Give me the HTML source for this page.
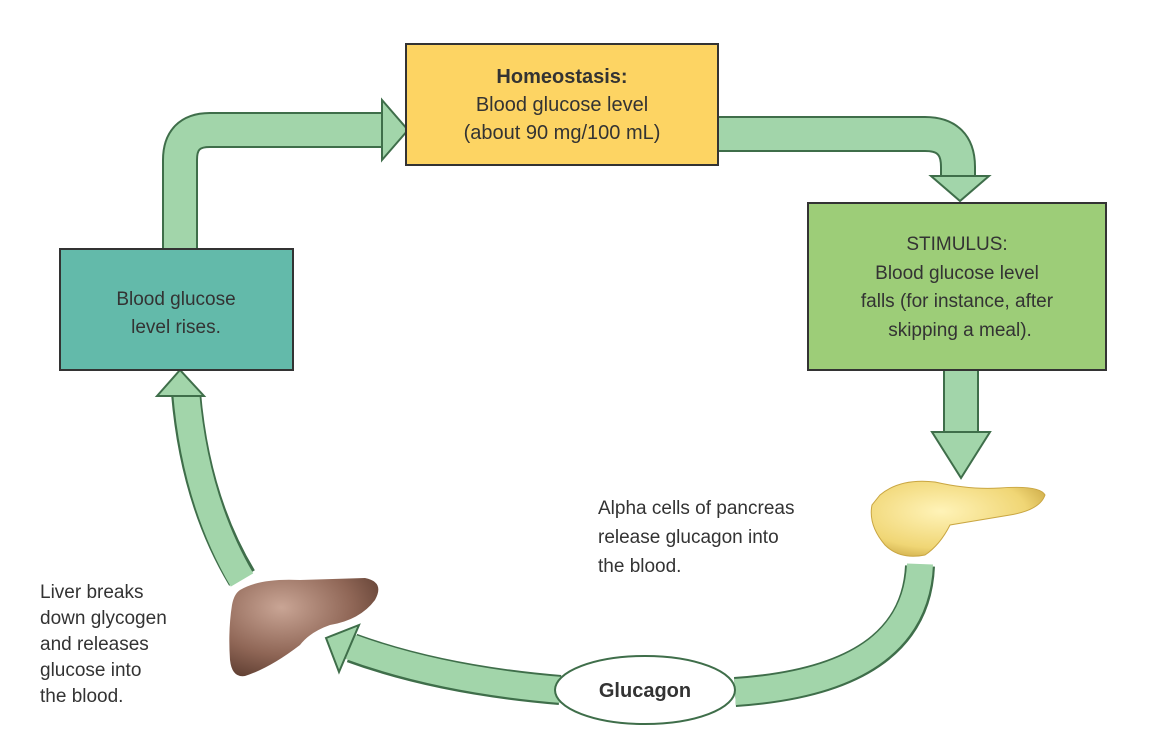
<!DOCTYPE html>
<html><head><meta charset="utf-8"><style>
html,body{margin:0;padding:0;background:#fff;}
svg{display:block;}
text{font-family:"Liberation Sans",sans-serif;fill:#333;}
</style></head><body>
<svg width="1154" height="740" viewBox="0 0 1154 740">
<defs>
<radialGradient id="liv" cx="0.35" cy="0.3" r="0.8"><stop offset="0" stop-color="#c9a595"/><stop offset="0.6" stop-color="#8f6656"/><stop offset="1" stop-color="#5a3a2e"/></radialGradient>
<radialGradient id="pan" cx="0.4" cy="0.4" r="0.7"><stop offset="0" stop-color="#fff3b8"/><stop offset="0.7" stop-color="#f0d675"/><stop offset="1" stop-color="#c9a642"/></radialGradient>
</defs>
<g fill="none" stroke-linejoin="round">
<path d="M180,250 L180,160 Q180,130 210,130 L384,130" stroke="#3f6e4a" stroke-width="36"/>
<path d="M180,252 L180,160 Q180,130 210,130 L386,130" stroke="#a2d5aa" stroke-width="32"/>
<path d="M718,134 L925,134 Q958,134 958,167 L958,178" stroke="#3f6e4a" stroke-width="36"/>
<path d="M716,134 L925,134 Q958,134 958,167 L958,180" stroke="#a2d5aa" stroke-width="32"/>
<path d="M961,370 L961,432" stroke="#3f6e4a" stroke-width="36"/>
<path d="M961,368 L961,434" stroke="#a2d5aa" stroke-width="32"/>
<path d="M920,566 Q915,680 735,692" stroke="#3f6e4a" stroke-width="30"/>
<path d="M920,564 Q915,680 735,692" stroke="#a2d5aa" stroke-width="26"/>
<path d="M560,690 Q440,680 352,648" stroke="#3f6e4a" stroke-width="30"/>
<path d="M562,690 Q440,680 348,646" stroke="#a2d5aa" stroke-width="26"/>
<path d="M242,578 Q195,500 186,393" stroke="#3f6e4a" stroke-width="30"/>
<path d="M242,580 Q195,500 186,391" stroke="#a2d5aa" stroke-width="26"/>
</g>
<g fill="#a2d5aa" stroke="#3f6e4a" stroke-width="2" stroke-linejoin="miter">
<polygon points="382,100 408,130 382,160"/>
<polygon points="931,176 989,176 960,201"/>
<polygon points="932,432 990,432 961,478"/>
<polygon points="326,638 359,625 339,672"/>
<polygon points="157,396 180,370 204,396"/>
</g>
<rect x="406" y="44" width="312" height="121" fill="#fdd463" stroke="#333" stroke-width="2"/>
<rect x="60" y="249" width="233" height="121" fill="#63baaa" stroke="#333" stroke-width="2"/>
<rect x="808" y="203" width="298" height="167" fill="#9dcd78" stroke="#333" stroke-width="2"/>
<text x="562" y="83" text-anchor="middle" font-size="20" font-weight="bold" fill="#222">Homeostasis:</text>
<text x="562" y="111" text-anchor="middle" font-size="20">Blood glucose level</text>
<text x="562" y="139" text-anchor="middle" font-size="20">(about 90 mg/100 mL)</text>
<text x="176" y="305" text-anchor="middle" font-size="19">Blood glucose</text>
<text x="176" y="333" text-anchor="middle" font-size="19">level rises.</text>
<text x="957" y="250" text-anchor="middle" font-size="19">STIMULUS:</text>
<text x="957" y="279" text-anchor="middle" font-size="19">Blood glucose level</text>
<text x="957" y="307" text-anchor="middle" font-size="19">falls (for instance, after</text>
<text x="960" y="336" text-anchor="middle" font-size="19">skipping a meal).</text>
<text font-size="19"><tspan x="598" y="514">Alpha cells of pancreas</tspan><tspan x="598" y="543">release glucagon into</tspan><tspan x="598" y="572">the blood.</tspan></text>
<text font-size="19"><tspan x="40" y="598">Liver breaks</tspan><tspan x="40" y="624">down glycogen</tspan><tspan x="40" y="650">and releases</tspan><tspan x="40" y="676">glucose into</tspan><tspan x="40" y="702">the blood.</tspan></text>
<ellipse cx="645" cy="690" rx="90" ry="34" fill="#fff" stroke="#3f6e4a" stroke-width="2"/>
<text x="645" y="697" text-anchor="middle" font-size="20" font-weight="bold" fill="#222">Glucagon</text>
<path d="M240,590 Q260,578 300,580 L365,578 Q385,582 375,600 Q360,620 330,625 Q310,632 300,645 Q270,668 245,676 Q232,678 230,660 Q228,630 232,605 Q234,594 240,590Z" fill="url(#liv)"/>
<path d="M880,495 Q900,478 935,482 Q970,490 1000,488 Q1040,485 1045,495 Q1040,510 1010,515 Q980,520 950,525 Q940,545 925,555 Q900,560 885,545 Q868,525 872,505Z" fill="url(#pan)" stroke="#c9a642" stroke-width="1"/>
</svg>
</body></html>
